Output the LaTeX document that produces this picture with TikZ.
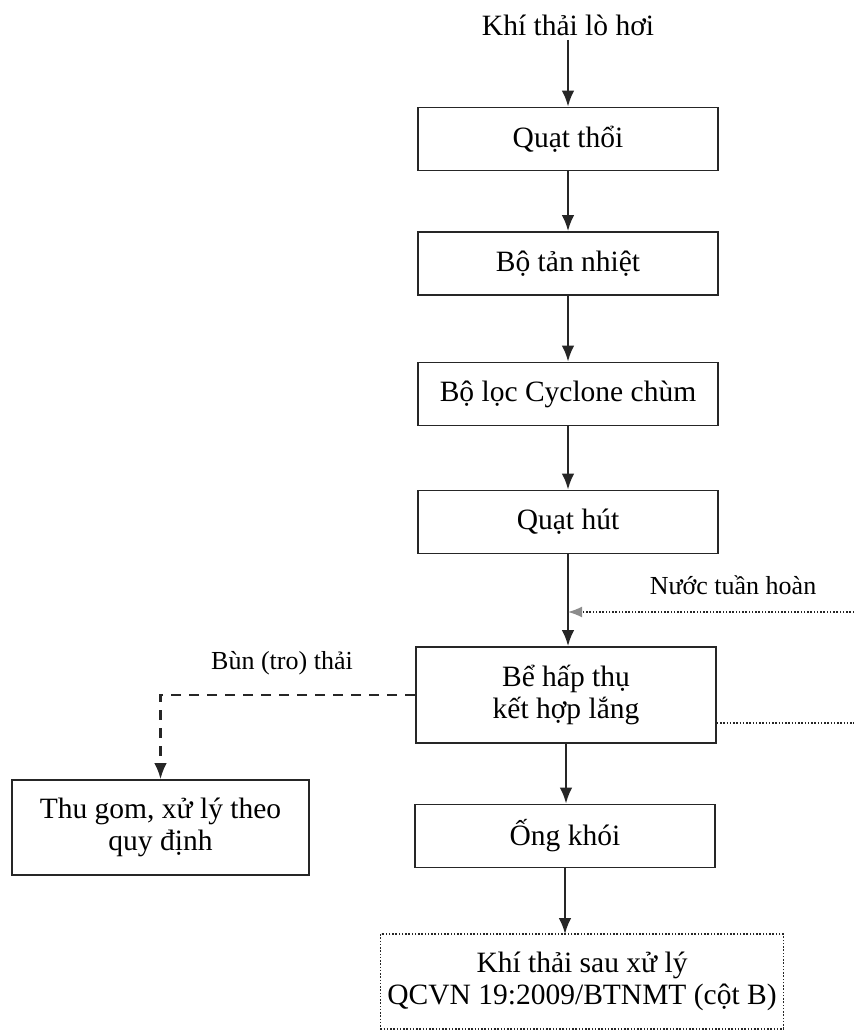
\documentclass[tikz,border=0pt]{standalone}
\usepackage{fontspec}
\setmainfont{Liberation Serif}
\usetikzlibrary{arrows.meta}
\colorlet{NetVe}{black!85}
\colorlet{XamMo}{black!45}

\begin{document}
\begin{tikzpicture}[x=0.4pt,y=-0.4pt,
    hop/.style={draw=NetVe,line width=0.65pt,minimum width=120pt,minimum height=25.2pt,
      align=center,inner sep=0pt,font=\fontsize{11.8}{12.8}\selectfont},
    chu/.style={inner sep=1.6pt,font=\fontsize{11.8}{12.8}\selectfont},
    nhan/.style={inner sep=1pt,font=\fontsize{10.4}{12}\selectfont},
    dong/.style={draw=NetVe,line width=0.9pt,-{Latex[length=6.4pt,width=5pt]}},
    bun/.style={draw=NetVe,line width=0.9pt,dash pattern=on 4pt off 3.2pt,
      -{Latex[length=6.4pt,width=5pt]}},
    nuoc/.style={draw=NetVe,line width=0.6pt,dash pattern=on 0.6pt off 0.7pt}
  ]
    \useasboundingbox (0,0) rectangle (854,1030);

    % Dây chuyền xử lý khí thải lò hơi.
    \node[chu] (dau) at (568,25) {Khí thải lò hơi};
    \node[hop] (qthoi) at (568,139) {Quạt thổi};
    \node[hop] (tnhiet) at (568,263.5) {Bộ tản nhiệt};
    \node[hop] (cyclone) at (568,394) {Bộ lọc Cyclone chùm};
    \node[hop] (qhut) at (568,522) {Quạt hút};
    \node[hop,minimum height=38.4pt] (be) at (566,695) {Bể hấp thụ\\kết hợp lắng};
    \node[hop] (ongkhoi) at (565,836) {Ống khói};
    \node[hop,minimum width=118.8pt,minimum height=38pt] (thugom) at (160.5,827.5)
      {Thu gom, xử lý theo\\quy định};
    \node[hop,draw=none,minimum width=160.4pt,minimum height=37.2pt] (daura) at (582,981.5)
      {Khí thải sau xử lý\\QCVN 19:2009/BTNMT (cột B)};
    \draw[nuoc] (daura.north west) rectangle (daura.south east);

    \draw[dong] (dau) -- (qthoi);
    \draw[dong] (qthoi) -- (tnhiet);
    \draw[dong] (tnhiet) -- (cyclone);
    \draw[dong] (cyclone) -- (qhut);
    \draw[dong] (qhut.south) -- (qhut.south |- be.north);
    \draw[dong] (be.south) -- (be.south |- ongkhoi.north);
    \draw[dong] (ongkhoi.south) -- (ongkhoi.south |- daura.north);

    % Nước tuần hoàn.
    \coordinate (nuocvao) at (854,612);
    \coordinate (nuocra) at (854,723);
    \node[nhan] (lnuoc) at (733,585) {Nước tuần hoàn};
    \draw[nuoc,-{Latex[length=5.6pt,width=4.4pt,color=XamMo]}] (nuocvao) -- (nuocvao -| qhut.south);
    \draw[nuoc] (be.east |- nuocra) -- (nuocra);

    % Bùn thải.
    \node[nhan] (lbun) at (282,663) {Bùn (tro) thải};
    \draw[bun] (be.west) -| (thugom.north);
  \end{tikzpicture}
\end{document}
